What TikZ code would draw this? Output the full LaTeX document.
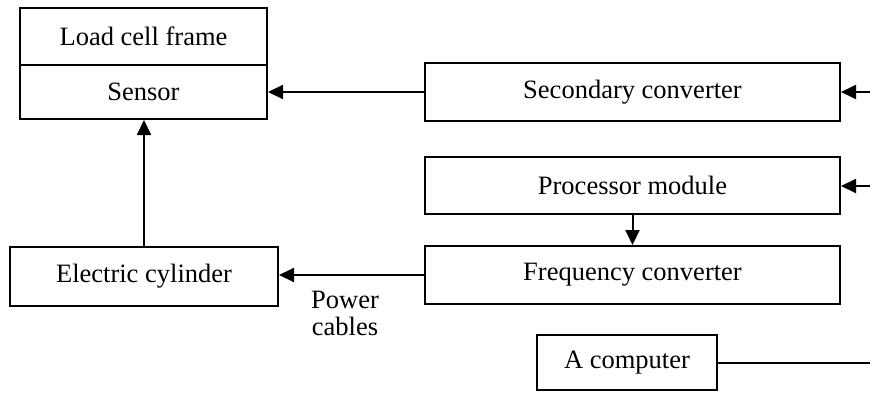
\documentclass[tikz,border=0pt]{standalone}
\usepackage{fontspec}
\setmainfont{Liberation Serif}
\usetikzlibrary{arrows.meta}
\begin{document}
\begin{tikzpicture}[x=1pt,y=-1pt,
  blk/.style={draw, line width=2pt, inner sep=0pt, font=\fontsize{26.5}{30}\selectfont, anchor=center},
  conn/.style={line width=2pt, -{Triangle[length=15pt,width=14pt]}},
  wire/.style={line width=2pt}]
\useasboundingbox (0,0) rectangle (870,392);
% sensor stack
\node[blk, minimum width=247pt, minimum height=57pt] (frame) at (143.5,36.5) {Load cell frame};
\node[blk, minimum width=247pt, minimum height=54pt] (sensor) at (143.5,92) {Sensor};
% right column
\node[blk, minimum width=415pt, minimum height=58pt] (sec) at (632.5,92) {Secondary converter};
\node[blk, minimum width=415pt, minimum height=57pt] (proc) at (632.5,185.5) {Processor module};
\node[blk, minimum width=415pt, minimum height=58pt] (freq) at (632.5,275) {Frequency converter};
% actuator and computer
\node[blk, minimum width=268pt, minimum height=59pt] (cyl) at (144,276.5) {Electric cylinder};
\node[blk, minimum width=180pt, minimum height=55pt] (comp) at (627,362.5) {A computer};
\node[font=\fontsize{26.5}{27}\selectfont, align=center, inner sep=0pt] (pwr) at (345,313) {Power\\cables};
% free ends at the right border
\coordinate (insec) at (870,92);
\coordinate (inproc) at (870,186);
\coordinate (outcomp) at (870,362.5);
% connectors
\draw[conn] (sec.west) -- (sensor.east);
\draw[conn] (insec) -- (sec.east);
\draw[conn] (inproc) -- (proc.east |- inproc);
\draw[conn] (proc.south) -- (freq.north);
\draw[conn] (cyl.north) -- (sensor.south -| cyl.north);
\draw[conn] (freq.west) -- (cyl.east |- freq.west);
\draw[wire] (comp.east) -- (outcomp);
\end{tikzpicture}
\end{document}
